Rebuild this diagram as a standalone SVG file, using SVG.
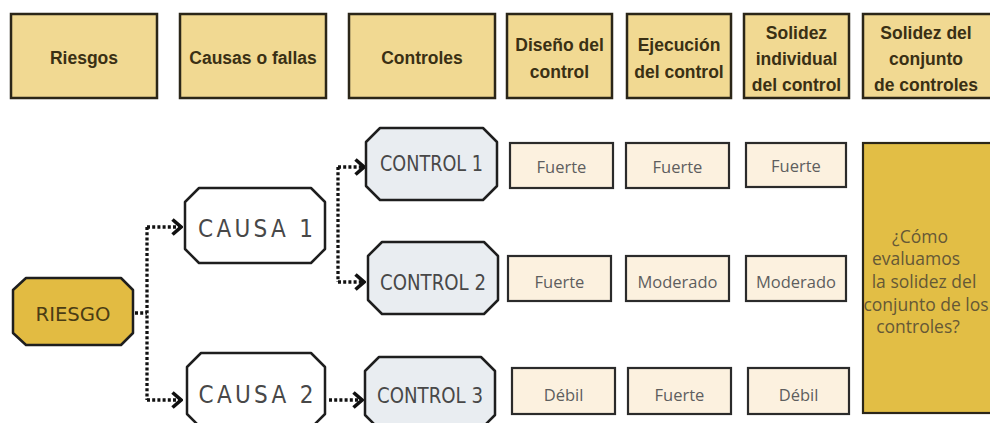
<svg xmlns="http://www.w3.org/2000/svg" width="990" height="423" viewBox="0 0 990 423">
<defs>
<style>
.hdr{fill:#f1d992;stroke:#2b2618;stroke-width:2.5}
.ht{font-family:"Liberation Sans",Arial,sans-serif;font-weight:bold;font-size:17.5px;fill:#3a3014;text-anchor:middle}
.val{fill:#fcf1df;stroke:#2b2b2b;stroke-width:2.2}
.vt{font-family:"Open Sans","DejaVu Sans",sans-serif;font-size:16.5px;fill:#5e5e5e;text-anchor:middle}
.cause{fill:#ffffff;stroke:#1e1e1e;stroke-width:2.5;stroke-linejoin:round}
.ctrl{fill:#e9edf1;stroke:#1e1e1e;stroke-width:2.5;stroke-linejoin:round}
.risk{fill:#e2bb42;stroke:#1e1e1e;stroke-width:2.5;stroke-linejoin:round}
.nt{font-family:"DejaVu Sans Condensed","DejaVu Sans","Liberation Sans Narrow",sans-serif;font-stretch:condensed;fill:#484848;text-anchor:middle}
.big{fill:#e2be45;stroke:#2b2618;stroke-width:2.2}
.bt{font-family:"Open Sans","DejaVu Sans",sans-serif;font-size:17.5px;fill:#655836;text-anchor:middle}
.dot{fill:none;stroke:#111;stroke-width:3.3;stroke-dasharray:3 2.2}
</style>
<marker id="chev" viewBox="-12 -10 14 20" refX="0" refY="0" markerWidth="14" markerHeight="20" orient="auto" markerUnits="userSpaceOnUse">
<path d="M-8.5,-7.5 L0,0 L-8.5,7.5" fill="none" stroke="#111" stroke-width="3.6" stroke-dasharray="none"/>
</marker>
</defs>
<rect width="990" height="423" fill="#ffffff"/>

<g id="headers">
<g id="h-riesgos"><rect class="hdr" x="11" y="14" width="146" height="84"/><text class="ht" x="84" y="64">Riesgos</text></g>
<g id="h-causas"><rect class="hdr" x="180" y="14" width="146" height="84"/><text class="ht" x="253" y="64">Causas o fallas</text></g>
<g id="h-controles"><rect class="hdr" x="349" y="14" width="146" height="84"/><text class="ht" x="422" y="64">Controles</text></g>
<g id="h-diseno"><rect class="hdr" x="507" y="14" width="105" height="84"/><text class="ht" x="559.5" y="51">Diseño del</text><text class="ht" x="559.5" y="78">control</text></g>
<g id="h-ejecucion"><rect class="hdr" x="627" y="14" width="104" height="84"/><text class="ht" x="679" y="51">Ejecución</text><text class="ht" x="679" y="78">del control</text></g>
<g id="h-individual"><rect class="hdr" x="744" y="14" width="105" height="84"/><text class="ht" x="796.5" y="39">Solidez</text><text class="ht" x="796.5" y="65">individual</text><text class="ht" x="796.5" y="91">del control</text></g>
<g id="h-conjunto"><rect class="hdr" x="863" y="14" width="140" height="84"/><text class="ht" x="926" y="39">Solidez del</text><text class="ht" x="926" y="65">conjunto</text><text class="ht" x="926" y="91">de controles</text></g>
</g>

<g id="connectors">
<path class="dot" d="M135,313 H147"/>
<path class="dot" d="M147,227 V400"/>
<path class="dot" d="M147,227 H181" marker-end="url(#chev)"/>
<path class="dot" d="M147,400 H181" marker-end="url(#chev)"/>
<path class="dot" d="M338,167 V282"/>
<path class="dot" d="M338,167 H364" marker-end="url(#chev)"/>
<path class="dot" d="M338,282 H364" marker-end="url(#chev)"/>
<path class="dot" d="M329,400 H362" marker-end="url(#chev)"/>
</g>

<g id="riesgo">
<polygon class="risk" points="26,278 121,278 133,290 133,333 121,345 26,345 13,333 13,290"/>
<text class="nt" x="73" y="320.5" font-size="20" style="fill:#4a3c14" textLength="75" lengthAdjust="spacingAndGlyphs">RIESGO</text>
</g>

<g id="causa1">
<polygon class="cause" points="199,188 311,188 325,202 325,249 311,263 199,263 185,249 185,202"/>
<text class="nt" x="255.5" y="237" font-size="24" textLength="115" lengthAdjust="spacing">CAUSA 1</text>
</g>
<g id="causa2">
<polygon class="cause" points="201,353 311,353 325,367 325,414 311,428 201,428 187,414 187,367"/>
<text class="nt" x="256" y="402.5" font-size="24" textLength="115" lengthAdjust="spacing">CAUSA 2</text>
</g>

<g id="control1">
<polygon class="ctrl" points="380,128 483,128 497,142 497,186 483,200 380,200 366,186 366,142"/>
<text class="nt" x="431.5" y="171" font-size="21" textLength="103" lengthAdjust="spacingAndGlyphs">CONTROL 1</text>
</g>
<g id="control2">
<polygon class="ctrl" points="382,242 484,242 498,256 498,300 484,314 382,314 368,300 368,256"/>
<text class="nt" x="433" y="290" font-size="21" textLength="106" lengthAdjust="spacingAndGlyphs">CONTROL 2</text>
</g>
<g id="control3">
<polygon class="ctrl" points="379,357 481,357 495,371 495,415 481,429 379,429 365,415 365,371"/>
<text class="nt" x="430" y="403" font-size="21" textLength="106" lengthAdjust="spacingAndGlyphs">CONTROL 3</text>
</g>

<g id="v-r1-diseno"><rect class="val" x="510" y="143" width="103" height="45"/><text class="vt" x="561.5" y="172.5">Fuerte</text></g>
<g id="v-r1-ejecucion"><rect class="val" x="626" y="143" width="103" height="45"/><text class="vt" x="677.5" y="172.5">Fuerte</text></g>
<g id="v-r1-individual"><rect class="val" x="746" y="143" width="100" height="44"/><text class="vt" x="796" y="172">Fuerte</text></g>

<g id="v-r2-diseno"><rect class="val" x="508" y="256" width="103" height="45"/><text class="vt" x="559.5" y="288">Fuerte</text></g>
<g id="v-r2-ejecucion"><rect class="val" x="626" y="256" width="103" height="45"/><text class="vt" x="677.5" y="288">Moderado</text></g>
<g id="v-r2-individual"><rect class="val" x="746" y="256" width="100" height="45"/><text class="vt" x="796" y="288">Moderado</text></g>

<g id="v-r3-diseno"><rect class="val" x="512" y="368" width="103" height="46"/><text class="vt" x="563.5" y="401">Débil</text></g>
<g id="v-r3-ejecucion"><rect class="val" x="628" y="368" width="103" height="46"/><text class="vt" x="679.5" y="401">Fuerte</text></g>
<g id="v-r3-individual"><rect class="val" x="748" y="368" width="101" height="46"/><text class="vt" x="798.5" y="401">Débil</text></g>

<g id="conjunto">
<rect class="big" x="863" y="143" width="140" height="270"/>
<text class="bt" x="920" y="243">¿Cómo</text>
<text class="bt" x="916" y="265">evaluamos</text>
<text class="bt" x="924" y="288">la solidez del</text>
<text class="bt" x="926" y="311">conjunto de los</text>
<text class="bt" x="918" y="333">controles?</text>
</g>
</svg>
